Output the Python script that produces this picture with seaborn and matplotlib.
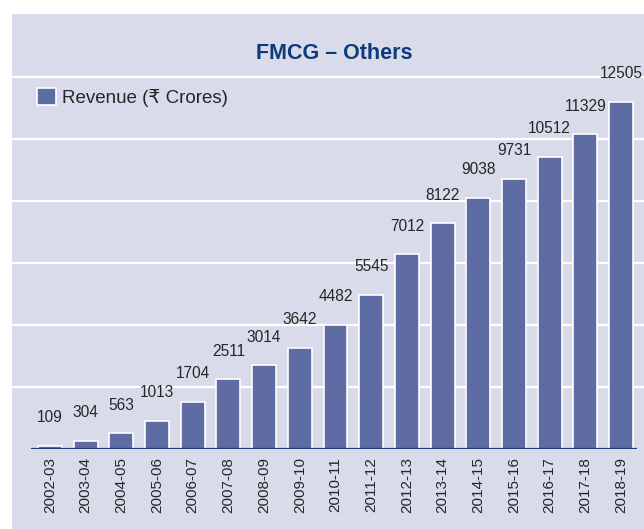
import matplotlib
matplotlib.use('Agg')
import matplotlib.pyplot as plt
import seaborn as sns
from matplotlib.patches import Patch, Rectangle

# data
years = ['2002-03', '2003-04', '2004-05', '2005-06', '2006-07', '2007-08',
         '2008-09', '2009-10', '2010-11', '2011-12', '2012-13', '2013-14',
         '2014-15', '2015-16', '2016-17', '2017-18', '2018-19']
revenue = [109, 304, 563, 1013, 1704, 2511, 3014, 3642, 4482, 5545,
           7012, 8122, 9038, 9731, 10512, 11329, 12505]

bg = '#d9dbea'
bar_color = '#5f6ba3'
navy = '#0c3b7c'
txt = '#262626'
fam = ['Liberation Sans', 'DejaVu Sans']

sns.set_theme(style='white')
plt.rcParams['font.family'] = fam

fig = plt.figure(figsize=(6.44, 5.29), dpi=100, facecolor='white')
W, H = 644, 529
# lavender panel behind everything (white strip on top and left)
fig.patches.append(Rectangle((12 / W, 0), 632 / W, 515 / H, transform=fig.transFigure,
                             facecolor=bg, edgecolor='none', zorder=-5))

ax = fig.add_axes([12 / W, (H - 449) / H, 632 / W, 435 / H])
ax.set_facecolor(bg)

sns.barplot(x=years, y=revenue, color=bar_color, width=0.67, edgecolor='white',
            linewidth=1.2, saturation=1, ax=ax, zorder=3)

ax.set_xlim(-1.06, 16.64)
ax.set_ylim(0, 15660)

# white horizontal gridlines
grid_step = 2232
ax.set_yticks([grid_step * k for k in range(1, 7)])
ax.yaxis.grid(True, color='white', linewidth=1.6)
ax.set_axisbelow(True)
ax.tick_params(axis='y', left=False, labelleft=False)

for s in ax.spines.values():
    s.set_visible(False)
ax.hlines(0, -0.53, 16.45, color='#1f3d7a', linewidth=1.6, zorder=4)

ax.set_xticks(range(len(years)))
ax.set_xticklabels(years, rotation=90, fontsize=11, color=txt)
ax.tick_params(axis='x', length=0, pad=6)
ax.set_xlabel('')
ax.set_ylabel('')

for i, v in enumerate(revenue):
    ax.annotate(str(v), (i, v), xytext=(0, 17), textcoords='offset points',
                ha='center', va='baseline', fontsize=11.2, color=txt)

fig.text(334 / W, 1 - 53.5 / H, 'FMCG – Others', ha='center', va='center',
         fontsize=15.5, fontweight='bold', color=navy)

handle = Patch(facecolor=bar_color, edgecolor='white', linewidth=1.2)
fig.legend([handle], ['Revenue (₹ Crores)'], loc='upper left',
           bbox_to_anchor=(37 / W, 1 - 88 / H), frameon=False, borderpad=0,
           borderaxespad=0, handlelength=1.0, handleheight=1.0, handletextpad=0.35,
           prop={'family': fam, 'size': 13.5}, labelcolor=txt)

fig.savefig('out.png', dpi=100, facecolor='white')
